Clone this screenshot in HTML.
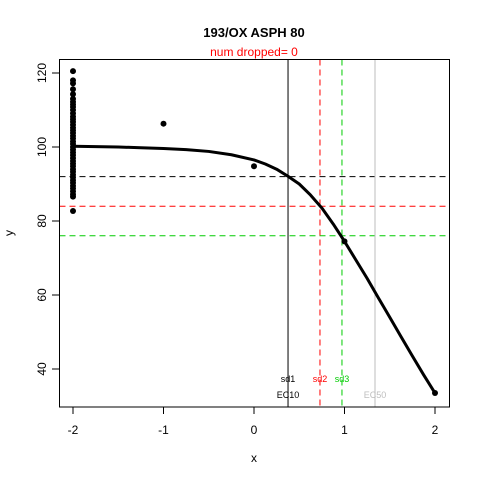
<!DOCTYPE html>
<html><head><meta charset="utf-8"><style>
body{margin:0;background:#fff}
svg{font-family:"Liberation Sans",Arial,sans-serif}
</style></head><body>
<svg id="chart" width="480" height="480" viewBox="0 0 480 480" xmlns="http://www.w3.org/2000/svg">
<rect x="0" y="0" width="480" height="480" fill="#fff"/>
<text x="254" y="37" text-anchor="middle" font-size="13" font-weight="bold">193/OX ASPH 80</text>
<text x="254" y="56" text-anchor="middle" font-size="12" fill="#ff0000">num dropped= 0</text>
<g id="refs"></g>
<g id="curve"></g>
<g id="pts"></g>
<rect x="59.5" y="59.5" width="390" height="347.5" fill="none" stroke="#000" stroke-width="1"/>
<g id="axes"></g>
<text x="254" y="462" text-anchor="middle" font-size="12">x</text>
<text transform="translate(13,233) rotate(-90)" text-anchor="middle" font-size="12">y</text>
</svg>
<script>
const xTicks=[-2,-1,0,1,2];
const yTicks=[40,60,80,100,120];
const curveX=[-2,-1.75,-1.5,-1.25,-1,-0.75,-0.5,-0.25,0,0.125,0.25,0.375,0.5,0.625,0.75,0.875,1,1.125,1.25,1.375,1.5,1.625,1.75,1.875,2];
const curveY=[100.2,100.1,100,99.8,99.6,99.3,98.8,97.9,96.5,95.4,94,92.1,90,87,83.5,79.2,74.5,69.5,64.5,59.2,54,48.7,43.5,38.4,33.5];
const clusterY=[120.5,118,117.2,115.6,114.3,113,112.2,111.5,110.8,110,109.1,108.2,107.5,106.8,106,105.2,104.5,103.8,103,102.3,101.5,100.8,100,99.3,98.5,97.8,97,96.2,95.5,94.8,94,93.3,92.5,91.8,91,90.3,89.5,88.8,88,87.2,86.6,82.7];
const otherX=[-1,0,1,2];
const otherY=[106.3,94.8,74.5,33.5];
const hRefs=[92,84,76];
const hColors=["#000","#ff0000","#00cc00"];
const vRefs=[0.376,0.729,0.972,1.337];
const vColors=["#000","#ff0000","#00cc00","#bebebe"];
const vDashed=[false,true,true,false];
const NS="http://www.w3.org/2000/svg";
const sx=v=>254+v*90.5, sy=v=>147-(v-100)*3.7;
function mk(t,a,p){const e=document.createElementNS(NS,t);for(const k in a)e.setAttribute(k,a[k]);p.appendChild(e);return e;}
const refs=document.getElementById('refs');
hRefs.forEach((v,i)=>{const l=mk('line',{x1:59.5,x2:449.5,y1:sy(v),y2:sy(v),stroke:hColors[i],'stroke-dasharray':'6,4'},refs);

});
vRefs.forEach((v,i)=>{const a={x1:sx(v),x2:sx(v),y1:59.5,y2:407,stroke:vColors[i]};if(vDashed[i])a['stroke-dasharray']='6,4';const l=mk('line',a,refs);

});
const labs=[["sd1",0.376,382,"#000"],["sd2",0.729,382,"#ff0000"],["sd3",0.972,382,"#00cc00"],["EC10",0.376,398,"#000"],["EC50",1.337,398,"#bebebe"]];
labs.forEach(d=>{const t=mk('text',{x:sx(d[1]),y:d[2],'text-anchor':'middle','font-size':9,fill:d[3]},refs);t.textContent=d[0];

});
const c=mk('path',{d:curveX.map((x,i)=>(i?'L':'M')+sx(x)+','+sy(curveY[i])).join(''),fill:'none',stroke:'#000','stroke-width':3,'stroke-linejoin':'round'},document.getElementById('curve'));


const pts=document.getElementById('pts');
clusterY.forEach(v=>{const p=mk('circle',{cx:sx(-2),cy:sy(v),r:3,fill:'#000'},pts);

});
otherX.forEach((x,i)=>{const p=mk('circle',{cx:sx(x),cy:sy(otherY[i]),r:3,fill:'#000'},pts);

});
const ax=document.getElementById('axes');
xTicks.forEach(v=>{mk('line',{x1:sx(v),x2:sx(v),y1:407,y2:414,stroke:'#000'},ax);const t=mk('text',{x:sx(v),y:434,'text-anchor':'middle','font-size':12},ax);t.textContent=v;

});
yTicks.forEach(v=>{mk('line',{x1:52,x2:59.5,y1:sy(v),y2:sy(v),stroke:'#000'},ax);const t=mk('text',{transform:`translate(46,${sy(v)}) rotate(-90)`,'text-anchor':'middle','font-size':12},ax);t.textContent=v;

});
</script>
</body></html>
